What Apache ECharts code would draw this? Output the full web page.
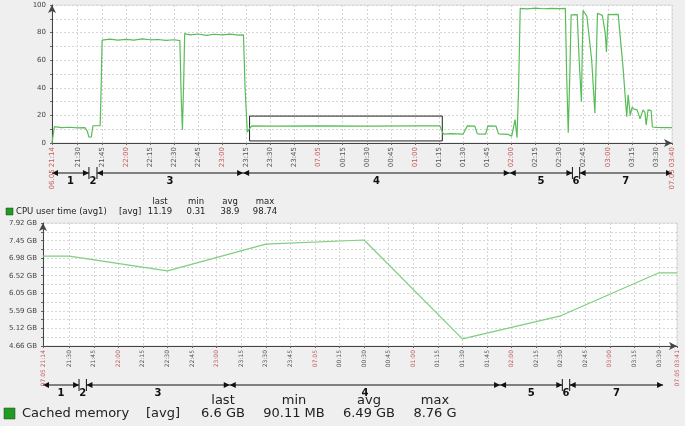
<!DOCTYPE html>
<html lang="en">
<head>
<meta charset="UTF-8">
<title>CPU user time / Cached memory</title>
<script src="https://cdn.jsdelivr.net/npm/echarts@6/dist/echarts.min.js"></script>
<style>
    html, body { margin: 0; padding: 0; background: #efefef; }
    #chart { width: 685px; height: 426px; }
</style>
</head>
<body>
<div id="chart"></div>
<script>
// time = minutes after 21:00 (06.05)
var cpuTime = [14, 15.5, 16.5, 20, 25, 30, 34.5, 36, 37, 38.5, 39.5, 44, 44.6, 45.2, 50, 55, 60, 65, 70, 75, 80, 85, 90,
    93.6, 94.4, 95.2, 96, 96.6, 100, 105, 110, 115, 120, 125, 130, 133.2, 134.2, 135.6, 137, 138.5, 150, 180, 210, 240,
    255.5, 256.5, 257.6, 262, 270, 271.2, 272.6, 277.2, 278.8, 284, 285.4, 290.4, 292, 298, 300.2, 302.3, 303.5, 304.5,
    305.5, 310, 315, 320, 325, 330, 333.6, 334.4, 335.4, 336.4, 337.2, 341, 342.2, 343.6, 344.6, 347, 350, 352, 353.6,
    356.6, 358.4, 359.2, 360.2, 366.5, 369.5, 371.8, 372.7, 374, 375.2, 376.4, 378.3, 380.1, 382, 383.2, 383.9, 385.1,
    387, 387.8, 390, 395, 400];
var cpuValue = [0, 11.8, 11.5, 11.2, 11.4, 10.9, 11.1, 8.5, 4.2, 4.5, 12.5, 12.6, 40, 74.5, 75.3, 74.6, 75.1, 74.5, 75.4, 74.8, 75, 74.3, 74.8,
    74.2, 35, 9.5, 45, 79.2, 78.4, 79, 78, 78.8, 78.3, 78.9, 78.2, 78.4, 40, 7.8, 10.5, 12.4, 12.3, 12.4, 12.3, 12.4,
    12.4, 11.5, 6.5, 6.8, 6.5, 7, 12.4, 12.3, 6.6, 6.5, 12.4, 12.3, 6.6, 6.2, 5, 17, 3.8, 40,
    97.5, 97.2, 97.7, 97.3, 97.6, 97.4, 97.5, 50, 7.5, 50, 92.8, 93, 60, 30, 96, 92, 60, 21.5, 94,
    92.5, 80, 66, 93, 93.2, 55, 19, 35, 20, 26, 24.5, 24, 17.5, 24, 22, 13, 24,
    23.5, 11.6, 11.3, 11.2, 11.19];

var memTime = [14, 30, 90, 150, 210, 270, 330, 390, 401];
var memValue = [7.04, 7.04, 6.65, 7.36, 7.47, 4.85, 5.46, 6.6, 6.6];

var cpuTicks = [14, 30, 45, 60, 75, 90, 105, 120, 135, 150, 165, 180, 195, 210, 225, 240, 255, 270, 285, 300, 315, 330, 345, 360, 375, 390, 400];
var cpuTickLabels = ['06.05 21:14', '21:30', '21:45', '22:00', '22:15', '22:30', '22:45', '23:00', '23:15', '23:30', '23:45', '07.05',
    '00:15', '00:30', '00:45', '01:00', '01:15', '01:30', '01:45', '02:00', '02:15', '02:30', '02:45', '03:00', '03:15', '03:30', '07.05 03:40'];
var memTicks = [14, 30, 45, 60, 75, 90, 105, 120, 135, 150, 165, 180, 195, 210, 225, 240, 255, 270, 285, 300, 315, 330, 345, 360, 375, 390, 401];
var memTickLabels = ['07.05 21:14', '21:30', '21:45', '22:00', '22:15', '22:30', '22:45', '23:00', '23:15', '23:30', '23:45', '07.05',
    '00:15', '00:30', '00:45', '01:00', '01:15', '01:30', '01:45', '02:00', '02:15', '02:30', '02:45', '03:00', '03:15', '03:30', '07.05 03:41'];

var cpuYLabels = [0, 20, 40, 60, 80, 100];
var memYLabels = [4.66, 5.12, 5.59, 6.05, 6.52, 6.98, 7.45, 7.92];
var memYGrid = [4.66, 4.893, 5.126, 5.359, 5.591, 5.824, 6.057, 6.29, 6.523, 6.756, 6.989, 7.221, 7.454, 7.687, 7.92];

// phases: start, end, label
var cpuPhases = [[14, 37, '1'], [37, 42, '2'], [42, 133, '3'], [133, 299, '4'], [299, 338, '5'], [338, 342.5, '6'], [342.5, 400, '7']];
var memPhases = [[14, 36, '1'], [36, 40.5, '2'], [40.5, 128, '3'], [128, 293, '4'], [293, 331, '5'], [331, 335.5, '6'], [335.5, 392.5, '7']];
var cpuBox = [137, 257, 1.5, 19.5];

var statNames = ['last', 'min', 'avg', 'max'];
var cpuStats = ['11.19', '0.31', '38.9', '98.74'];
var memStats = ['6.6 GB', '90.11 MB', '6.49 GB', '8.76 G'];

var FONT = 'DejaVu Sans';
var RED = '#c45a5a';
var GRID_LINE = { show: true, lineStyle: { color: '#d6d6d6', type: [2, 2], width: 1 } };

function pairs(xs, ys) {
    return xs.map(function (x, i) { return [x, ys[i]]; });
}

function timeLabel(ticks, labels) {
    return function (v) {
        for (var i = 0; i < ticks.length; i++) {
            if (Math.abs(ticks[i] - v) < 0.01) {
                var s = labels[i];
                return /\.|:00$/.test(s) ? '{r|' + s + '}' : s;
            }
        }
        return '';
    };
}

function xAxisFor(grid, ticks, labels, max, size) {
    return {
        type: 'value', gridIndex: grid, min: 14, max: max,
        axisLine: { show: true, lineStyle: { color: '#444' }, symbol: ['none', 'arrow'], symbolSize: [6, 8] },
        axisTick: { show: true, customValues: ticks, length: 2, lineStyle: { color: '#666' } },
        axisLabel: {
            customValues: ticks, rotate: 90, fontSize: size, fontFamily: FONT, color: '#555', margin: 4,
            formatter: timeLabel(ticks, labels),
            rich: { r: { color: RED, fontSize: size, fontFamily: FONT } }
        },
        splitLine: GRID_LINE
    };
}

var chart = echarts.init(document.getElementById('chart'));

var option = {
    animation: false,
    grid: [
        { left: 52, top: 5, width: 620, height: 138, show: true, backgroundColor: '#fff', borderColor: '#dcdcdc' },
        { left: 43, top: 223, width: 634, height: 123, show: true, backgroundColor: '#fff', borderColor: '#dcdcdc' }
    ],
    xAxis: [
        xAxisFor(0, cpuTicks, cpuTickLabels, 400, 7),
        xAxisFor(1, memTicks, memTickLabels, 401, 6)
    ],
    yAxis: [
        {
            type: 'value', gridIndex: 0, min: 0, max: 100, interval: 10,
            axisLine: { show: true, lineStyle: { color: '#444' }, symbol: ['none', 'arrow'], symbolSize: [6, 8] },
            axisTick: { show: true, length: 2, lineStyle: { color: '#666' } },
            axisLabel: { customValues: cpuYLabels, fontSize: 7, fontFamily: FONT, color: '#444', margin: 6 },
            splitLine: GRID_LINE
        },
        {
            type: 'value', gridIndex: 1, min: 4.66, max: 7.92,
            axisLine: { show: true, lineStyle: { color: '#444' }, symbol: ['none', 'arrow'], symbolSize: [6, 8] },
            axisTick: { show: true, customValues: memYGrid, length: 2, lineStyle: { color: '#666' } },
            axisLabel: {
                customValues: memYLabels, fontSize: 7, fontFamily: FONT, color: '#444', margin: 6,
                formatter: function (v) { return v.toFixed(2) + ' GB'; }
            },
            splitLine: GRID_LINE
        }
    ],
    series: [
        {
            name: 'CPU user time (avg1)', type: 'line', xAxisIndex: 0, yAxisIndex: 0,
            data: pairs(cpuTime, cpuValue), showSymbol: false,
            lineStyle: { color: '#58bc58', width: 1.2 },
            markArea: {
                silent: true,
                itemStyle: { color: 'rgba(0,0,0,0)', borderColor: '#222', borderWidth: 1 },
                data: [[{ coord: [cpuBox[0], cpuBox[2]] }, { coord: [cpuBox[1], cpuBox[3]] }]]
            }
        },
        {
            name: 'Cached memory', type: 'line', xAxisIndex: 1, yAxisIndex: 1,
            data: pairs(memTime, memValue), showSymbol: false,
            lineStyle: { color: '#7fcf7f', width: 1.2 }
        }
    ]
};
chart.setOption(option);

// phase arrows under each chart, placed through the x scale
function phaseGraphics(phases, axisIndex, y) {
    var els = [];
    var stroke = { stroke: '#111', lineWidth: 1 };
    phases.forEach(function (p) {
        var x1 = chart.convertToPixel({ xAxisIndex: axisIndex }, p[0]);
        var x2 = chart.convertToPixel({ xAxisIndex: axisIndex }, p[1]);
        if (x2 - x1 < 14) {
            els.push({ type: 'line', shape: { x1: x1, y1: y - 6, x2: x1, y2: y + 6 }, style: stroke });
            els.push({ type: 'line', shape: { x1: x2, y1: y - 6, x2: x2, y2: y + 6 }, style: stroke });
        } else {
            els.push({ type: 'line', shape: { x1: x1, y1: y, x2: x2, y2: y }, style: stroke });
            els.push({ type: 'polygon', shape: { points: [[x1, y], [x1 + 6, y - 3], [x1 + 6, y + 3]] }, style: { fill: '#111' } });
            els.push({ type: 'polygon', shape: { points: [[x2, y], [x2 - 6, y - 3], [x2 - 6, y + 3]] }, style: { fill: '#111' } });
        }
        els.push({
            type: 'text', x: (x1 + x2) / 2, y: y + 8,
            style: { text: p[2], fill: '#111', font: 'bold 10px "' + FONT + '"', align: 'center', verticalAlign: 'middle' }
        });
    });
    return els;
}

function legendGraphics(name, stats, opt) {
    var els = [];
    var font = opt.size + 'px "' + FONT + '"';
    els.push({ type: 'rect', shape: { x: opt.box[0], y: opt.box[1], width: opt.box[2], height: opt.box[2] },
        style: { fill: '#1e9e1e', stroke: '#333', lineWidth: 0.5 } });
    els.push({ type: 'text', x: opt.nameX, y: opt.y, style: { text: name, fill: '#222', font: font, verticalAlign: 'middle' } });
    els.push({ type: 'text', x: opt.avgX, y: opt.y, style: { text: '[avg]', fill: '#222', font: font, verticalAlign: 'middle' } });
    stats.forEach(function (s, i) {
        els.push({ type: 'text', x: opt.cols[i], y: opt.headY, style: { text: statNames[i], fill: '#222', font: font, align: 'center', verticalAlign: 'middle' } });
        els.push({ type: 'text', x: opt.cols[i], y: opt.y, style: { text: s, fill: '#222', font: font, align: 'center', verticalAlign: 'middle' } });
    });
    return els;
}

var graphics = []
    .concat(phaseGraphics(cpuPhases, 0, 173))
    .concat(phaseGraphics(memPhases, 1, 385))
    .concat(legendGraphics('CPU user time (avg1)', cpuStats,
        { size: 8.5, box: [6, 208, 7], nameX: 16, avgX: 119, y: 212, headY: 202, cols: [160, 196, 230, 265] }))
    .concat(legendGraphics('Cached memory', memStats,
        { size: 13, box: [4, 408, 11], nameX: 22, avgX: 146, y: 414, headY: 401, cols: [223, 294, 369, 435] }));

chart.setOption({ graphic: graphics });

window.onresize = function () {
    chart.resize();
};
</script>
</body>
</html>
